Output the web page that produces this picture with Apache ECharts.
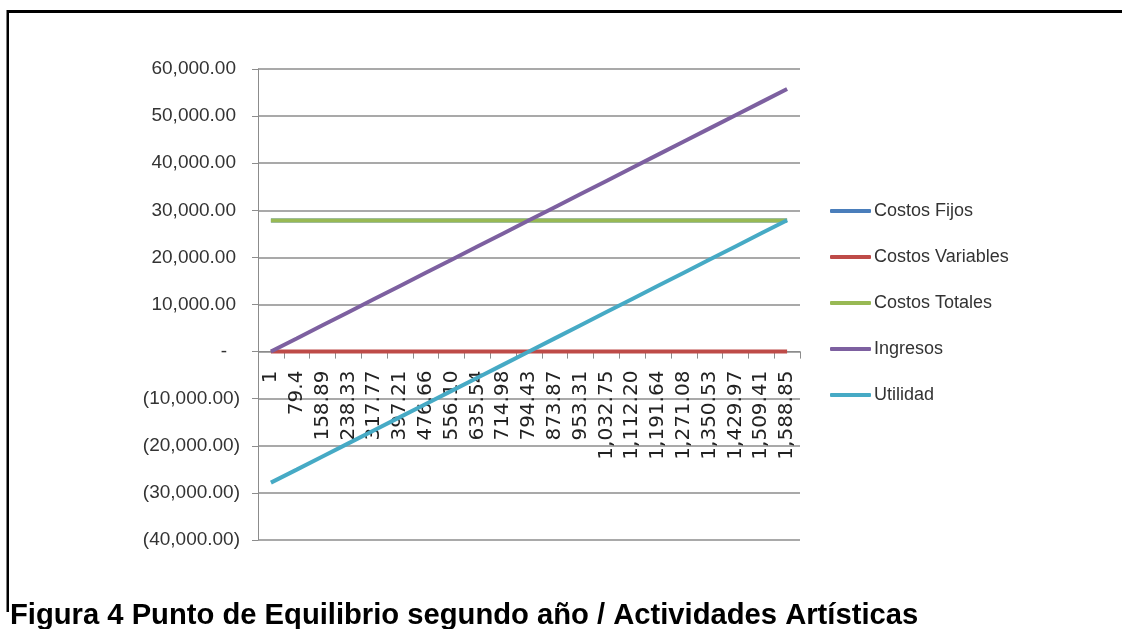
<!DOCTYPE html>
<html>
<head>
<meta charset="utf-8">
<script src="https://cdn.jsdelivr.net/npm/echarts@6/dist/echarts.min.js"></script>
<style>
html,body{margin:0;padding:0;background:#fff;}
#chart{width:1122px;height:629px;}
</style>
</head>
<body>
<div id="chart"></div>
<script>
var categories = ['1','79.4','158.89','238.33','317.77','397.21','476.66','556.10','635.54','714.98','794.43','873.87','953.31','1,032.75','1,112.20','1,191.64','1,271.08','1,350.53','1,429.97','1,509.41','1,588.85'];
var costosFijos = [27850,27850,27850,27850,27850,27850,27850,27850,27850,27850,27850,27850,27850,27850,27850,27850,27850,27850,27850,27850,27850];
var costosVariables = [0,0,0,0,0,0,0,0,0,0,0,0,0,0,0,0,0,0,0,0,0];
var costosTotales = [27850,27850,27850,27850,27850,27850,27850,27850,27850,27850,27850,27850,27850,27850,27850,27850,27850,27850,27850,27850,27850];
var ingresos = [35,2786,5575,8363,11150,13938,16726,19514,22301,25089,27877,30664,33452,36240,39027,41815,44603,47391,50178,52966,55754];
var utilidad = [-27815,-25064,-22275,-19487,-16700,-13912,-11124,-8336,-5549,-2761,27,2814,5602,8390,11177,13965,16753,19541,22328,25116,27904];
var yTicks = {min:-40000, max:60000, interval:10000};
var titleText = 'Figura 4 Punto de Equilibrio segundo año / Actividades Artísticas';

var seriesDefs = [
  {name:'Costos Fijos', data:costosFijos, color:'#4A7EBB'},
  {name:'Costos Variables', data:costosVariables, color:'#BE4B48'},
  {name:'Costos Totales', data:costosTotales, color:'#98B954'},
  {name:'Ingresos', data:ingresos, color:'#7D60A0'},
  {name:'Utilidad', data:utilidad, color:'#46AAC5'}
];

function fmt(v){
  return v.toLocaleString('en-US',{minimumFractionDigits:2,maximumFractionDigits:2});
}
var labelFont = '"Liberation Sans",Arial,sans-serif';

var gridTop = 69, gridBottomY = 540;
// x axis sits at value 0 of the y axis
var zeroOffset = -(gridBottomY - gridTop) * (0 - yTicks.min) / (yTicks.max - yTicks.min);

var chart = echarts.init(document.getElementById('chart'));
chart.setOption({
  animation:false,
  backgroundColor:'#fff',
  grid:{left:258, right:322, top:gridTop, bottom:629 - gridBottomY, containLabel:false, outerBoundsMode:'none'},
  legend:{
    orient:'vertical', left:830, top:200, padding:0,
    icon:'roundRect', itemWidth:41, itemHeight:4, itemGap:24,
    textStyle:{fontFamily:labelFont, fontSize:18, color:'#333', lineHeight:22, padding:[0,0,0,-2]},
    data:seriesDefs.map(function(s){return s.name;})
  },
  xAxis:{
    type:'category', data:categories, boundaryGap:true,
    offset:zeroOffset,
    axisLine:{onZero:false, lineStyle:{color:'#8c8c8c', width:1}},
    axisTick:{show:true, length:7, lineStyle:{color:'#8c8c8c'}},
    axisLabel:{interval:0, rotate:90, margin:19, fontFamily:'"DejaVu Sans",sans-serif', fontSize:20, color:'#222'},
    splitLine:{show:false}
  },
  yAxis:{
    type:'value', min:yTicks.min, max:yTicks.max, interval:yTicks.interval,
    axisLine:{show:true, lineStyle:{color:'#8c8c8c', width:1}},
    axisTick:{show:true, length:6, lineStyle:{color:'#8c8c8c'}},
    splitLine:{lineStyle:{color:'#8c8c8c', width:1.5}},
    axisLabel:{
      margin:18,
      formatter:function(v){
        if(v===0) return '{z|-}';
        if(v<0) return '{n|(' + fmt(-v) + ')}';
        return '{p|' + fmt(v) + '}';
      },
      rich:{
        p:{fontFamily:labelFont, fontSize:19, color:'#333', padding:[0,4,0,0]},
        n:{fontFamily:labelFont, fontSize:19, color:'#333'},
        z:{fontFamily:labelFont, fontSize:19, color:'#333', padding:[0,13,0,0]}
      }
    }
  },
  series:seriesDefs.map(function(s){
    return {name:s.name, type:'line', data:s.data, showSymbol:false, symbol:'none',
      itemStyle:{color:s.color}, lineStyle:{color:s.color, width:4}};
  }),
  graphic:[
    {type:'rect', shape:{x:7, y:10, width:1115, height:3}, style:{fill:'#000'}},
    {type:'rect', shape:{x:6.5, y:10, width:2.5, height:602}, style:{fill:'#000'}},
    {type:'text', x:10, y:601, style:{text:titleText, font:'bold 29.2px "Liberation Sans", Arial, sans-serif', fill:'#000'}}
  ]
});
</script>
</body>
</html>
